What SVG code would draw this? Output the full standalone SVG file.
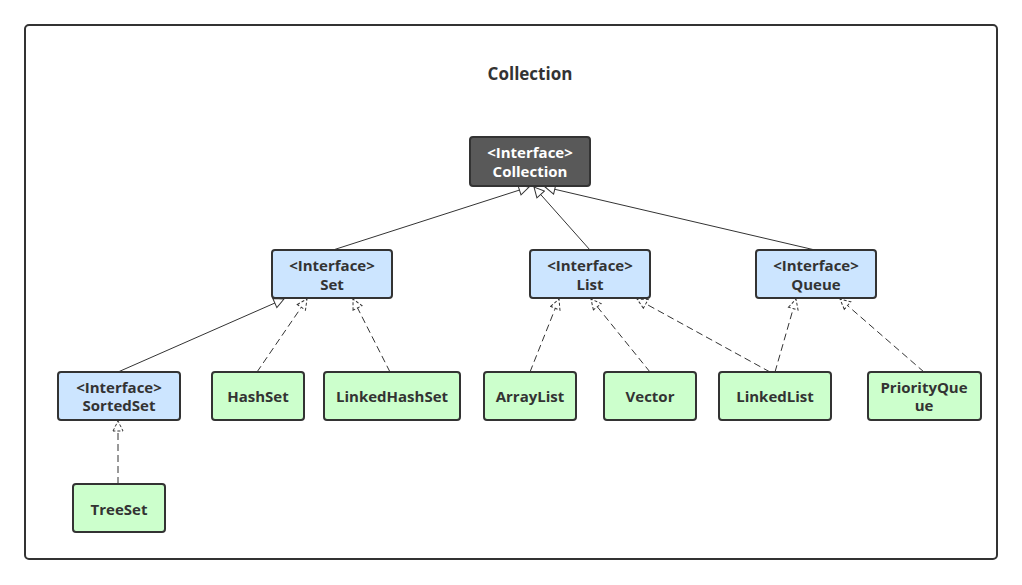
<svg xmlns="http://www.w3.org/2000/svg" width="1022" height="585" viewBox="0 0 1022 585">
<style>
.frame{fill:#fff;stroke:#333;stroke-width:2}
.node rect{stroke:#333;stroke-width:2}
.dark rect{fill:#595959}
.intf rect{fill:#cce5ff}
.cls rect{fill:#ccffcc}
text{font-family:"Open Sans","Noto Sans","Liberation Sans",sans-serif;font-weight:bold;font-size:15px;text-anchor:middle;dominant-baseline:central;fill:#333}
.dark text{fill:#fff}
.title{font-size:17px}
.solid{stroke:#333;stroke-width:1;fill:none;marker-end:url(#tri)}
.dash{stroke:#333;stroke-width:1;fill:none;stroke-dasharray:7 4;marker-end:url(#trid)}
</style>
<defs>
<marker id="tri" viewBox="0 0 12 12" refX="11" refY="6" markerWidth="12" markerHeight="12" markerUnits="userSpaceOnUse" orient="auto">
<path d="M1,1 L11,6 L1,11 z" fill="#fff" stroke="#333" stroke-width="1"/>
</marker>
<marker id="trid" viewBox="0 0 12 12" refX="11" refY="6" markerWidth="12" markerHeight="12" markerUnits="userSpaceOnUse" orient="auto">
<path d="M1,1 L11,6 L1,11 z" fill="#fff" stroke="#333" stroke-width="1" stroke-dasharray="3 2"/>
</marker>
</defs>
<rect class="frame" x="25" y="25" width="972" height="534" rx="4"/>
<text class="title" x="530" y="73">Collection</text>
<g id="connectors">
<line class="solid" x1="333" y1="250" x2="529" y2="187"/>
<line class="solid" x1="590" y1="250" x2="534" y2="187"/>
<line class="solid" x1="815" y1="250" x2="545" y2="187"/>
<line class="solid" x1="118" y1="372" x2="284" y2="299"/>
<line class="dash" x1="257" y1="372" x2="307" y2="299"/>
<line class="dash" x1="390" y1="372" x2="353" y2="299"/>
<line class="dash" x1="530" y1="372" x2="559" y2="299"/>
<line class="dash" x1="650" y1="372" x2="591" y2="299"/>
<line class="dash" x1="770" y1="372" x2="637" y2="299"/>
<line class="dash" x1="775" y1="372" x2="796" y2="299"/>
<line class="dash" x1="924" y1="372" x2="840" y2="299"/>
<line class="dash" x1="118" y1="484" x2="118" y2="421"/>
</g>
<g id="collection" class="node dark"><rect x="470" y="137" width="120" height="49" rx="3"/><text x="530" y="152">&lt;Interface&gt;</text><text x="530" y="170.5">Collection</text></g>
<g id="set" class="node intf"><rect x="272" y="250" width="120" height="48" rx="3"/><text x="332" y="265">&lt;Interface&gt;</text><text x="332" y="283.5">Set</text></g>
<g id="list" class="node intf"><rect x="530" y="250" width="120" height="48" rx="3"/><text x="590" y="265">&lt;Interface&gt;</text><text x="590" y="283.5">List</text></g>
<g id="queue" class="node intf"><rect x="756" y="250" width="120" height="48" rx="3"/><text x="816" y="265">&lt;Interface&gt;</text><text x="816" y="283.5">Queue</text></g>
<g id="sortedset" class="node intf"><rect x="58" y="372" width="122" height="48" rx="3"/><text x="119" y="386.5">&lt;Interface&gt;</text><text x="119" y="405">SortedSet</text></g>
<g id="hashset" class="node cls"><rect x="212" y="372" width="92" height="48" rx="3"/><text x="258" y="396">HashSet</text></g>
<g id="linkedhashset" class="node cls"><rect x="324" y="372" width="136" height="48" rx="3"/><text x="392" y="396">LinkedHashSet</text></g>
<g id="arraylist" class="node cls"><rect x="484" y="372" width="92" height="48" rx="3"/><text x="530" y="396">ArrayList</text></g>
<g id="vector" class="node cls"><rect x="604" y="372" width="92" height="48" rx="3"/><text x="650" y="396">Vector</text></g>
<g id="linkedlist" class="node cls"><rect x="719" y="372" width="112" height="48" rx="3"/><text x="775" y="396">LinkedList</text></g>
<g id="priorityqueue" class="node cls"><rect x="868" y="372" width="113" height="48" rx="3"/><text x="924" y="386.5">PriorityQue</text><text x="924" y="405">ue</text></g>
<g id="treeset" class="node cls"><rect x="73" y="484" width="92" height="48" rx="3"/><text x="119" y="509">TreeSet</text></g>
</svg>
